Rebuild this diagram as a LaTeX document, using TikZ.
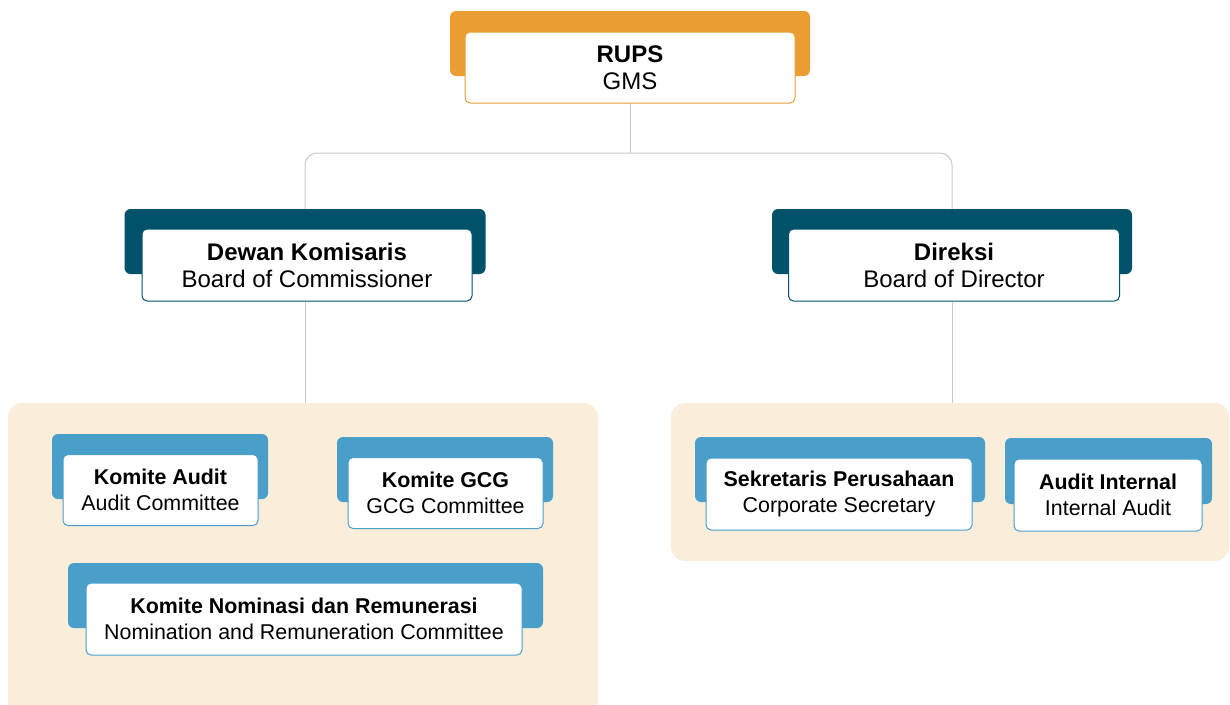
\documentclass[tikz,border=0pt]{standalone}
\usepackage{fontspec}
\setmainfont{Liberation Sans}
\definecolor{rupsorange}{HTML}{E99D32}
\definecolor{boardteal}{HTML}{00526B}
\definecolor{unitblue}{HTML}{4A9ECA}
\definecolor{panelbeige}{HTML}{FAEDDA}
\definecolor{linegray}{HTML}{C8C8C8}
\begin{document}
\begin{tikzpicture}[x=1pt, y=-1pt,
    tab/.style={fill=#1, rounded corners=6pt, inner sep=0pt},
    card/.style={draw=#1, fill=white, rounded corners=5pt, line width=1pt, align=center, inner sep=0pt},
    bigtext/.style={font=\fontsize{24}{27}\selectfont},
    smalltext/.style={font=\fontsize{21.4}{26}\selectfont},
    panel/.style={fill=panelbeige, rounded corners=14pt, inner sep=0pt},
    conn/.style={draw=linegray, line width=1pt, rounded corners=12pt}]
    \useasboundingbox (0,0) rectangle (1230,704);

    % beige panels
    \node[panel, minimum width=590pt, minimum height=317pt] (panelKom) at (303,561.5) {};
    \node[panel, minimum width=558pt, minimum height=158pt] (panelDir) at (950,482) {};

    \coordinate (split) at (630,153);

    % top level
    \node[tab=rupsorange, minimum width=360pt, minimum height=65pt] (rupsTab) at (630,43.5) {};
    \node[tab=boardteal, minimum width=361pt, minimum height=65pt] (dewanTab) at (305,241.5) {};
    \node[tab=boardteal, minimum width=360pt, minimum height=65pt] (direksiTab) at (952,241.5) {};

    \draw[conn] (rupsTab.south) -- (split);
    \draw[conn] (dewanTab.north) |- (split) -| (direksiTab.north);

    \node[card=rupsorange, bigtext, minimum width=330pt, minimum height=71pt] (rups) at (630,67.5) {\textbf{RUPS}\\GMS};
    \node[card=boardteal, bigtext, minimum width=330pt, minimum height=72pt] (dewan) at (307,265) {\textbf{Dewan Komisaris}\\Board of Commissioner};
    \node[card=boardteal, bigtext, minimum width=331pt, minimum height=72pt] (direksi) at (954,265) {\textbf{Direksi}\\Board of Director};

    \draw[conn] (dewanTab.north |- dewan.south) -- (dewanTab.north |- panelKom.north);
    \draw[conn] (direksiTab.north |- direksi.south) -- (direksiTab.north |- panelDir.north);

    % committees
    \node[tab=unitblue, minimum width=216pt, minimum height=65pt] (kAuditTab) at (160,466.5) {};
    \node[card=unitblue, smalltext, minimum width=195pt, minimum height=71pt] (kAudit) at (160.5,490) {\textbf{Komite Audit}\\Audit Committee};

    \node[tab=unitblue, minimum width=216pt, minimum height=65pt] (kGCGTab) at (445,469.5) {};
    \node[card=unitblue, smalltext, minimum width=195pt, minimum height=71pt] (kGCG) at (445.5,493) {\textbf{Komite GCG}\\GCG Committee};

    \node[tab=unitblue, minimum width=475pt, minimum height=65pt] (kNomTab) at (305.5,595.5) {};
    \node[card=unitblue, smalltext, minimum width=436pt, minimum height=72pt] (kNom) at (304,619) {\textbf{Komite Nominasi dan Remunerasi}\\Nomination and Remuneration Committee};

    % under the directors
    \node[tab=unitblue, minimum width=290pt, minimum height=65pt] (sekperTab) at (840,469.5) {};
    \node[card=unitblue, smalltext, minimum width=266pt, minimum height=72pt] (sekper) at (839,494) {\textbf{Sekretaris Perusahaan}\\Corporate Secretary};

    \node[tab=unitblue, minimum width=207pt, minimum height=66pt] (auditIntTab) at (1108.5,471) {};
    \node[card=unitblue, smalltext, minimum width=188pt, minimum height=72pt] (auditInt) at (1108,495) {\textbf{Audit Internal}\\Internal Audit};
\end{tikzpicture}
\end{document}
